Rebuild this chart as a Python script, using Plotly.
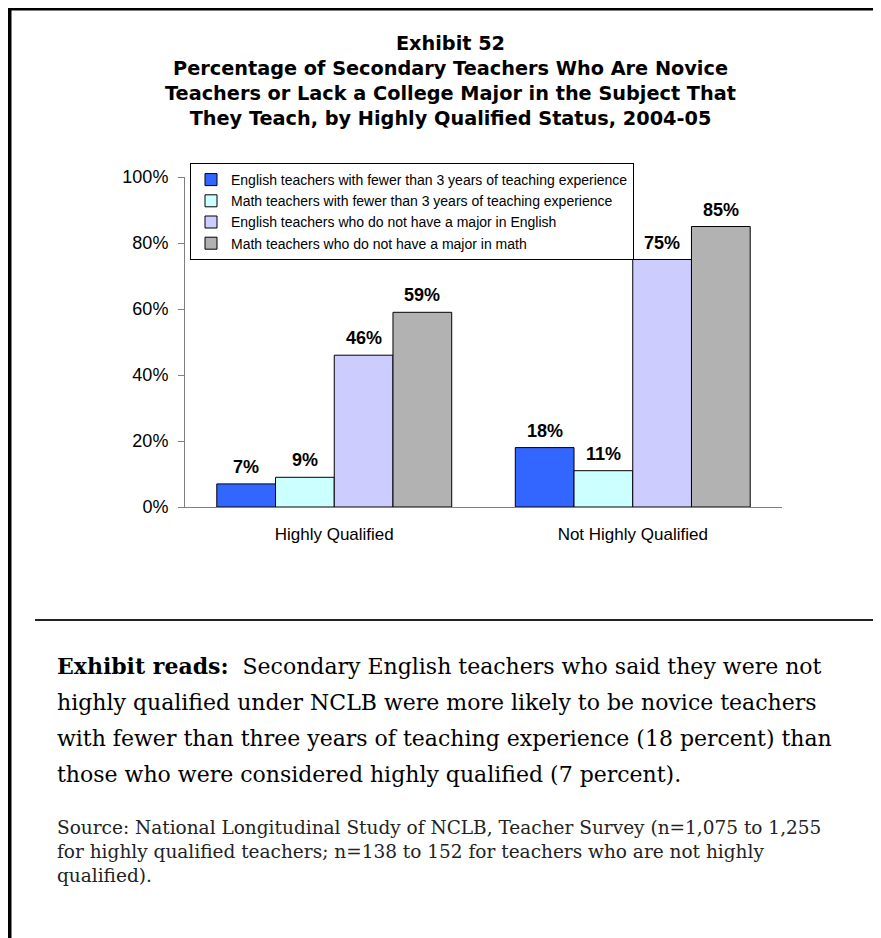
import plotly.graph_objects as go

categories = ["Highly Qualified", "Not Highly Qualified"]
series_names = [
    "English teachers with fewer than 3 years of teaching experience",
    "Math teachers with fewer than 3 years of teaching experience",
    "English teachers who do not have a major in English",
    "Math teachers who do not have a major in math",
]
eng_novice = [7, 18]
math_novice = [9, 11]
eng_nomajor = [46, 75]
math_nomajor = [59, 85]
series_values = [eng_novice, math_novice, eng_nomajor, math_nomajor]
colors = ["#3366FF", "#CCFFFF", "#CCCCFF", "#B2B2B2"]

title_lines = [
    "Exhibit 52",
    "Percentage of Secondary Teachers Who Are Novice",
    "Teachers or Lack a College Major in the Subject That",
    "They Teach, by Highly Qualified Status, 2004-05",
]
reads_lines = [
    "<b>Exhibit reads:</b>  Secondary English teachers who said they were not",
    "highly qualified under NCLB were more likely to be novice teachers",
    "with fewer than three years of teaching experience (18 percent) than",
    "those who were considered highly qualified (7 percent).",
]
source_lines = [
    "Source: National Longitudinal Study of NCLB, Teacher Survey (n=1,075 to 1,255",
    "for highly qualified teachers; n=138 to 152 for teachers who are not highly",
    "qualified).",
]

# page has an 8px body margin; figure origin sits at (8, 8) on the page
OFF = 8
W, H = 881 - OFF, 938 - OFF
L, R, T, B = 185 - OFF, 782 - OFF, 177 - OFF, 507 - OFF
PW, PH = R - L, B - T


def px2x(px):  # page pixel x -> paper x
    return (px - OFF - L) / PW


def py2y(py):  # page pixel y -> paper y
    return (B - (py - OFF)) / PH


fig = go.Figure()
for name, vals, col in zip(series_names, series_values, colors):
    fig.add_trace(go.Bar(
        x=categories, y=vals, name=name,
        marker=dict(color=col, line=dict(color="#000000", width=1)),
    ))

bargap = 0.213
bar_px = (PW / len(categories)) * (1 - bargap) / len(series_names)
annotations = []
for i, vals in enumerate(series_values):
    for c, v in zip(categories, vals):
        annotations.append(dict(
            x=c, y=v, xref="x", yref="y", text=f"<b>{v}%</b>",
            showarrow=False, xshift=(i - 1.5) * bar_px, yshift=5,
            yanchor="bottom", font=dict(family="Arial", size=18, color="#000"),
        ))

annotations.append(dict(
    x=px2x(450), y=py2y(81), xref="paper", yref="paper",
    text="<br>".join(f"<b>{t}</b>" for t in title_lines),
    showarrow=False, xanchor="center", yanchor="middle", align="center",
    font=dict(family="DejaVu Sans", size=19.3, color="#000"),
))

for k, line in enumerate(reads_lines):
    annotations.append(dict(
        x=px2x(55), y=py2y(666 + k * 36), xref="paper", yref="paper",
        text=line, showarrow=False, xanchor="left", yanchor="middle",
        font=dict(family="DejaVu Serif", size=22, color="#000"),
    ))

for k, line in enumerate(source_lines):
    annotations.append(dict(
        x=px2x(55), y=py2y(827 + k * 24), xref="paper", yref="paper",
        text=line, showarrow=False, xanchor="left", yanchor="middle",
        font=dict(family="DejaVu Serif", size=18.5, color="#222"),
    ))

shapes = [
    dict(type="line", xref="paper", yref="paper", x0=px2x(9.5), x1=px2x(9.5),
         y0=py2y(6), y1=py2y(945), line=dict(color="#000", width=4)),
    dict(type="line", xref="paper", yref="paper", x0=px2x(8), x1=px2x(890),
         y0=py2y(8.5), y1=py2y(8.5), line=dict(color="#000", width=4)),
    dict(type="line", xref="paper", yref="paper", x0=px2x(35), x1=px2x(878),
         y0=py2y(620), y1=py2y(620), line=dict(color="#222", width=2)),
]

fig.update_layout(
    width=W, height=H,
    margin=dict(l=L, r=W - R, t=T, b=H - B, pad=0),
    paper_bgcolor="white", plot_bgcolor="white",
    barmode="group", bargap=bargap, bargroupgap=0,
    font=dict(family="Arial", color="#000"),
    showlegend=True,
    legend=dict(
        x=px2x(190), y=py2y(163), xanchor="left", yanchor="top",
        bgcolor="white", bordercolor="#000", borderwidth=1,
        font=dict(family="Arial", size=14, color="#000"),
        itemwidth=30, tracegroupgap=0, traceorder="normal",
    ),
    xaxis=dict(showline=True, linecolor="#808080", linewidth=1, ticks="",
               tickfont=dict(size=17, color="#000"), ticklabelstandoff=12,
               showgrid=False, zeroline=False),
    yaxis=dict(range=[0, 100], dtick=20, ticksuffix="%", showline=True,
               linecolor="#808080", linewidth=1, ticks="outside", ticklen=6,
               tickcolor="#808080", tickfont=dict(size=18, color="#000"),
               ticklabelstandoff=6, showgrid=False, zeroline=False),
    annotations=annotations,
    shapes=shapes,
)

fig.write_html("out.html")
